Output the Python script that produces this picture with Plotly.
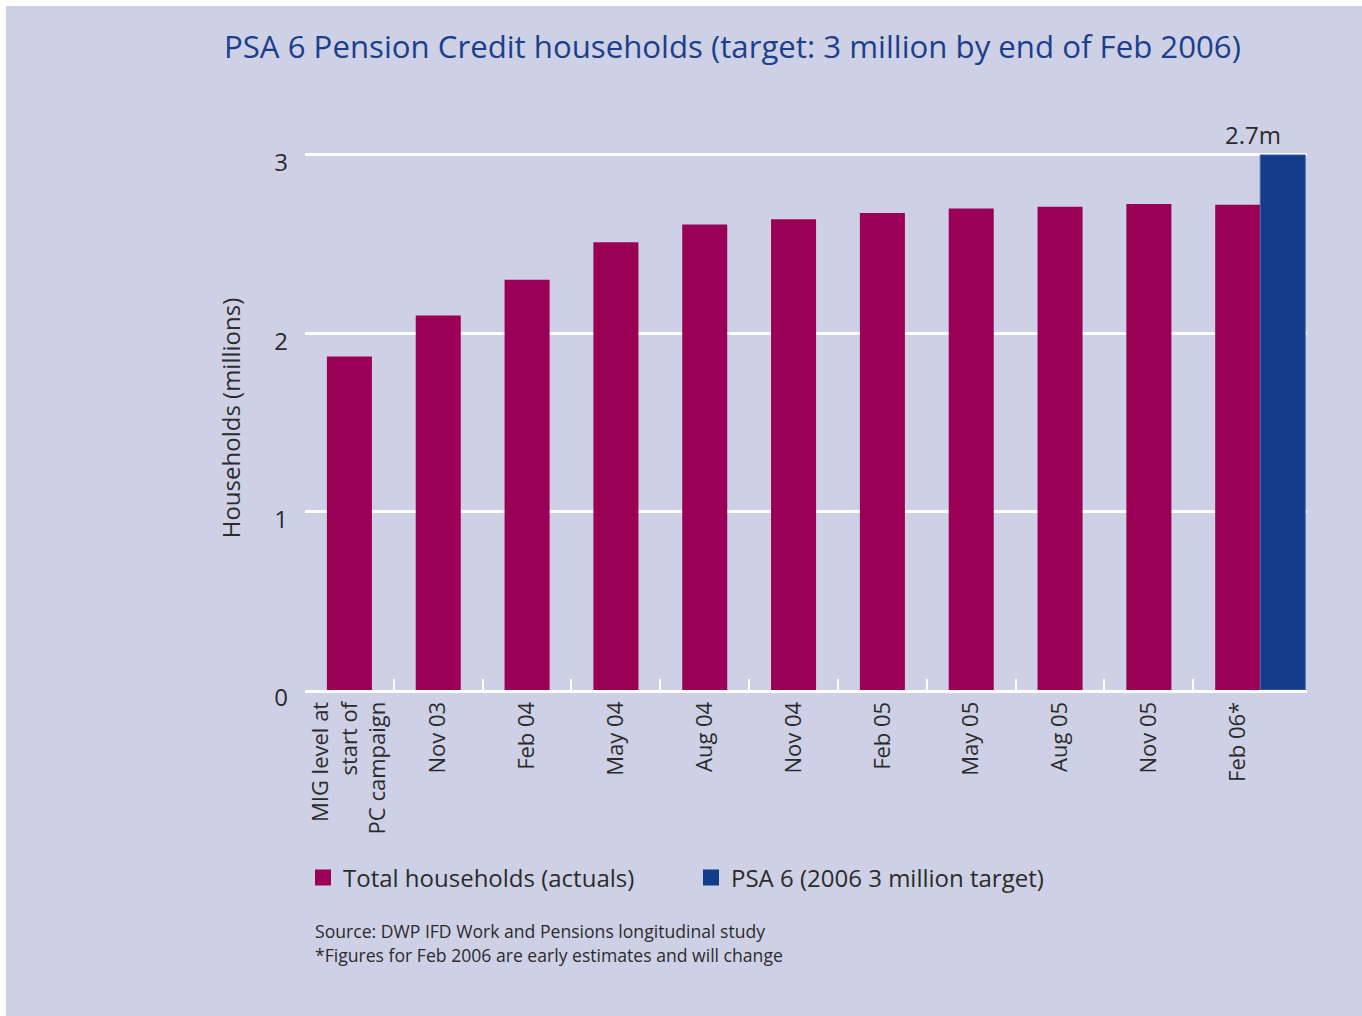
import plotly.graph_objects as go

# ---- data -------------------------------------------------------------
categories = [
    "MIG level at<br>start of<br>PC campaign",
    "Nov 03", "Feb 04", "May 04", "Aug 04", "Nov 04",
    "Feb 05", "May 05", "Aug 05", "Nov 05", "Feb 06*",
]
actual_households = [1.87, 2.10, 2.30, 2.51, 2.61, 2.64, 2.675, 2.70, 2.71, 2.725, 2.72]
target_category = ["Feb 06*"]
target_households = [3.0]

y_ticks = [0, 1, 2, 3]
title_text = "PSA 6 Pension Credit households (target: 3 million by end of Feb 2006)"
source_lines = [
    "Source: DWP IFD Work and Pensions longitudinal study",
    "*Figures for Feb 2006 are early estimates and will change",
]
feb06_label = "2.7m"
series_names = ["Total households (actuals)", "PSA 6 (2006 3 million target)"]

# ---- styling ----------------------------------------------------------
BG = "#ced1e6"
RED = "#9b0057"
BLUE = "#133d8b"
TEXT = "#2b2b2b"
TITLE_BLUE = "#1c3f8c"
FONT = "Open Sans"

W, H = 1362, 1016
ML, MR, MT, MB = 305, 55, 146, 326
plot_w = W - ML - MR
plot_h = H - MT - MB

def px_to_paper_x(px):
    return (px - ML) / plot_w

def px_to_paper_y(py):
    return (H - MB - py) / plot_h

bar_w = 0.507

fig = go.Figure()
fig.add_trace(go.Bar(
    x=categories, y=actual_households,
    name=series_names[0], showlegend=False,
    marker=dict(color=RED, line=dict(width=0)),
    width=bar_w, offset=-bar_w / 2,
))
fig.add_trace(go.Bar(
    x=target_category, y=target_households,
    name=series_names[1], showlegend=False,
    marker=dict(color=BLUE, line=dict(width=1, color="#4a6aa8")),
    width=bar_w, offset=bar_w / 2,
))

# square swatches for the legend
for name, colour in zip(series_names, [RED, BLUE]):
    fig.add_trace(go.Scatter(
        x=[None], y=[None], mode="markers", name=name,
        marker=dict(symbol="square", size=16, color=colour),
    ))

fig.update_layout(
    width=W, height=H,
    margin=dict(l=ML, r=MR, t=MT, b=MB, pad=0),
    paper_bgcolor=BG, plot_bgcolor=BG,
    barmode="overlay",
    font=dict(family=FONT, color=TEXT, size=22),
    showlegend=True,
    legend=dict(
        orientation="h",
        x=px_to_paper_x(303), xanchor="left",
        y=px_to_paper_y(878), yanchor="middle",
        font=dict(size=24, color=TEXT),
        bgcolor="rgba(0,0,0,0)",
        entrywidth=343, entrywidthmode="pixels",
        itemwidth=30,
    ),
)

fig.update_xaxes(
    type="category",
    range=[-0.5, 10.78],
    showgrid=False, zeroline=False,
    showline=True, linecolor="white", linewidth=3,
    ticks="inside", tickson="boundaries", ticklen=11,
    tickcolor="white", tickwidth=2,
    tickangle=-90,
    tickfont=dict(size=22, color=TEXT),
    layer="below traces",
)
fig.update_yaxes(
    range=[0, 3.05],
    tickvals=y_ticks,
    showgrid=True, gridcolor="white", gridwidth=2.5,
    zeroline=False, showline=False, ticks="",
    tickfont=dict(size=24, color=TEXT),
    ticklabelstandoff=16,
    ticklabelshift=8,
    title=dict(text="Households (millions)", font=dict(size=24, color=TEXT), standoff=26),
)

# title
fig.add_annotation(
    text=title_text, xref="paper", yref="paper",
    x=px_to_paper_x(222), y=px_to_paper_y(46),
    xanchor="left", yanchor="middle", showarrow=False,
    font=dict(size=31.2, color=TITLE_BLUE, family=FONT),
)

# value label above the final group
fig.add_annotation(
    text=feb06_label, x="Feb 06*", y=target_households[0],
    xref="x", yref="y", xanchor="center", yanchor="bottom",
    xshift=15, yshift=2, showarrow=False,
    font=dict(size=24, color=TEXT),
)

# source notes
for i, line in enumerate(source_lines):
    fig.add_annotation(
        text=line, xref="paper", yref="paper",
        x=px_to_paper_x(313), y=px_to_paper_y(931 + 24 * i),
        xanchor="left", yanchor="middle", showarrow=False,
        font=dict(size=17.6, color=TEXT),
    )

# thin white frame along the top and left edges
fig.add_shape(type="rect", xref="paper", yref="paper", layer="below",
              x0=px_to_paper_x(0), x1=px_to_paper_x(W),
              y0=px_to_paper_y(0), y1=px_to_paper_y(6),
              fillcolor="white", line=dict(width=0))
fig.add_shape(type="rect", xref="paper", yref="paper", layer="below",
              x0=px_to_paper_x(0), x1=px_to_paper_x(6),
              y0=px_to_paper_y(0), y1=px_to_paper_y(H),
              fillcolor="white", line=dict(width=0))

fig.write_html("out.html")
